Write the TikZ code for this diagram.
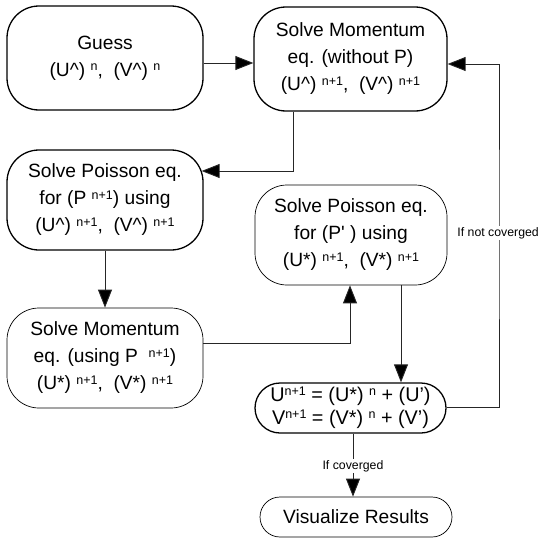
\documentclass[tikz,border=0pt]{standalone}
\usepackage{fontspec}
\setmainfont{Liberation Sans}
\usetikzlibrary{arrows.meta,positioning,calc}
\newcommand{\sx}[1]{\raisebox{0.55ex}{\fontsize{12.5}{12.5}\selectfont #1}}

\begin{document}
\begin{tikzpicture}[x=1pt, y=-1pt,
  box/.style={draw, rounded corners=32pt, align=center, inner sep=0pt,
    font=\fontsize{19.2}{27}\selectfont},
  heavy/.style={line width=1.3pt},
  light/.style={line width=0.7pt},
  flow/.style={draw=black!85, line width=0.9pt, -{Triangle[length=18pt,width=14pt,fill=black]}},
  cond/.style={fill=white, inner sep=1pt, font=\fontsize{12.3}{15}\selectfont}]
\useasboundingbox (0,0) rectangle (541,538);

% first guess and momentum step
\node[box, heavy, minimum width=196pt, minimum height=104pt] (guess) at (105,58)
  {Guess\\(U\textasciicircum) \sx{n}, \ (V\textasciicircum) \sx{n}};
\node[box, heavy, minimum width=193pt, minimum height=104pt] (mom1) at (350.5,59)
  {Solve Momentum\\eq. (without P)\\(U\textasciicircum) \sx{n+1}, \ (V\textasciicircum) \sx{n+1}};

% pressure (Poisson) step
\node[box, heavy, minimum width=196pt, minimum height=100pt] (pois1) at (105,200)
  {Solve Poisson eq.\\for (P \sx{n+1}) using\\(U\textasciicircum) \sx{n+1}, \ (V\textasciicircum) \sx{n+1}};

% corrected momentum
\node[box, light, minimum width=196pt, minimum height=100pt] (mom2) at (105,358)
  {Solve Momentum\\eq. (using P \ \sx{n+1})\\(U*) \sx{n+1}, \ (V*) \sx{n+1}};

% pressure correction
\node[box, light, minimum width=192pt, minimum height=100pt] (pois2) at (351,235)
  {Solve Poisson eq.\\for (P\textquotesingle\ ) using\\(U*) \sx{n+1}, \ (V*) \sx{n+1}};

% update
\node[box, heavy, rounded corners=25pt, minimum width=191pt, minimum height=50pt,
  font=\fontsize{19.8}{23}\selectfont] (upd) at (350.5,408)
  {U\sx{n+1} = (U*) \sx{n} + (U’)\\V\sx{n+1} = (V*) \sx{n} + (V’)};

% output
\node[box, light, rounded corners=20pt, minimum width=192pt, minimum height=40pt] (vis) at (356,517)
  {Visualize Results};

% connectors
\draw[flow] ([yshift=-5pt]guess.east) -- ([yshift=-5pt]guess.east -| mom1.west);
\draw[flow] ([xshift=-57.5pt]mom1.south) |- ([xshift=-2pt,yshift=29pt]pois1.east);
\draw[flow] (pois1.south) -- (mom2.north);
\draw[flow] ([yshift=15pt]mom2.east) -| ([xshift=-1pt]pois2.south);
\draw[flow] ([xshift=50pt]pois2.south) -- ([xshift=50pt]pois2.south |- upd.north);

% convergence check
\coordinate (back) at (499,233);
\draw[flow] ([yshift=1pt]upd.east) -| (back) |- ([yshift=-5pt]mom1.east);
\node[cond, anchor=east] (notconv) at (540,233) {If not coverged};
\node[cond, fill=none] (conv) at (353,466) {If coverged};
\draw[draw=black!85, line width=0.9pt] ([xshift=2.5pt]upd.south) -- (conv.north);
\draw[flow] (conv.south) -- (vis.north -| conv);
\end{tikzpicture}
\end{document}
